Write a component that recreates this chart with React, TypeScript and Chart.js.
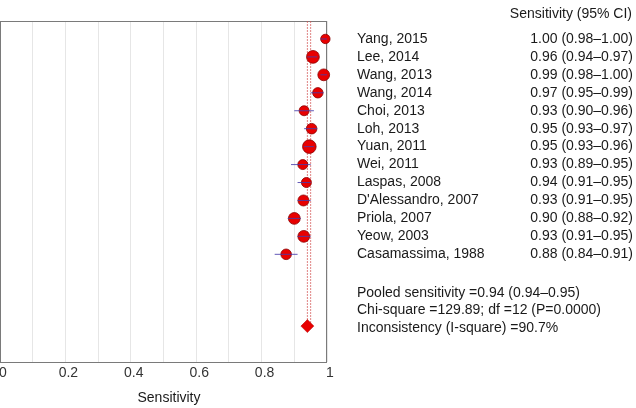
import React, { useEffect, useRef } from "react";
import { Chart, registerables } from "chart.js";

Chart.register(...registerables);

const studies = [
  "Yang, 2015", "Lee, 2014", "Wang, 2013", "Wang, 2014", "Choi, 2013", "Loh, 2013",
  "Yuan, 2011", "Wei, 2011", "Laspas, 2008", "D'Alessandro, 2007", "Priola, 2007",
  "Yeow, 2003", "Casamassima, 1988",
];
const sensitivity = [0.995, 0.957, 0.99, 0.972, 0.93, 0.953, 0.946, 0.926, 0.937, 0.928, 0.9, 0.929, 0.875];
const ciLow = [0.98, 0.94, 0.98, 0.95, 0.9, 0.93, 0.93, 0.89, 0.91, 0.91, 0.88, 0.91, 0.84];
const ciHigh = [1.0, 0.97, 1.0, 0.99, 0.96, 0.97, 0.96, 0.95, 0.95, 0.95, 0.92, 0.95, 0.91];
const ciLabels = [
  "1.00 (0.98–1.00)", "0.96 (0.94–0.97)", "0.99 (0.98–1.00)", "0.97 (0.95–0.99)",
  "0.93 (0.90–0.96)", "0.95 (0.93–0.97)", "0.95 (0.93–0.96)", "0.93 (0.89–0.95)",
  "0.94 (0.91–0.95)", "0.93 (0.91–0.95)", "0.90 (0.88–0.92)", "0.93 (0.91–0.95)",
  "0.88 (0.84–0.91)",
];
const weights = [4.7, 6.4, 5.9, 5.2, 5.0, 5.3, 6.8, 5.0, 5.0, 5.5, 5.9, 5.9, 5.3];
const pooled = 0.94;
const pooledLow = 0.94;
const pooledHigh = 0.95;
const summaryLines = [
  "Pooled sensitivity =0.94 (0.94–0.95)",
  "Chi-square =129.89; df =12 (P=0.0000)",
  "Inconsistency (I-square) =90.7%",
];
const xTicks = [0, 0.2, 0.4, 0.6, 0.8, 1];
const xTickLabels = ["0", "0.2", "0.4", "0.6", "0.8", "1"];

const FONT = '"Liberation Sans", Arial, Helvetica, sans-serif';
const DIAMOND_ROW = 17;

export default function App() {
  const ref = useRef<HTMLCanvasElement | null>(null);

  useEffect(() => {
    if (!ref.current) return;
    const ciData: any[] = [];
    studies.forEach((_, i) => {
      ciData.push({ x: ciLow[i], y: i + 1 });
      ciData.push({ x: ciHigh[i], y: i + 1 });
      ciData.push({ x: NaN, y: NaN });
    });

    const framePlugin = {
      id: "frame",
      beforeDatasetsDraw(chart: any) {
        const ctx = chart.ctx;
        const a = chart.chartArea;
        ctx.save();
        ctx.strokeStyle = "#7a7a7a";
        ctx.lineWidth = 1;
        ctx.strokeRect(Math.round(a.left) + 0.5, Math.round(a.top) + 0.5, Math.round(a.right - a.left) - 1, Math.round(a.bottom - a.top));
        ctx.restore();
      },
    };

    const textPlugin = {
      id: "forestText",
      afterDraw(chart: any) {
        const ctx = chart.ctx;
        const xs = chart.scales.x;
        const ys = chart.scales.y;
        const a = chart.chartArea;
        ctx.save();
        ctx.font = `14px ${FONT}`;
        ctx.fillStyle = "#1a1a1a";
        ctx.textBaseline = "middle";
        ctx.textAlign = "right";
        ctx.fillText("Sensitivity (95% CI)", 632, 14);
        studies.forEach((s, i) => {
          const y = ys.getPixelForValue(i + 1);
          ctx.textAlign = "left";
          ctx.fillText(s, 357, y);
          ctx.textAlign = "right";
          ctx.fillText(ciLabels[i], 633, y);
        });
        ctx.textAlign = "left";
        summaryLines.forEach((t, i) => {
          ctx.fillText(t, 357, ys.getPixelForValue(15.15 + i * 0.97));
        });
        ctx.fillStyle = "#333";
        ctx.textAlign = "center";
        xTicks.forEach((v, i) => {
          ctx.fillText(xTickLabels[i], xs.getPixelForValue(v) + 3, a.bottom + 11);
        });
        ctx.fillStyle = "#1a1a1a";
        ctx.fillText("Sensitivity", 169, a.bottom + 36);
        ctx.restore();
      },
    };

    const chart = new Chart(ref.current, {
      type: "scatter",
      data: {
        datasets: [
          {
            type: "line",
            data: ciData,
            borderColor: "rgba(72,60,170,0.85)",
            borderWidth: 1,
            pointRadius: 0,
            spanGaps: false,
            fill: false,
            clip: false,
          } as any,
          {
            data: studies.map((_, i) => ({ x: sensitivity[i], y: i + 1 })),
            pointRadius: weights,
            backgroundColor: "#e80000",
            borderColor: "#8a0000",
            borderWidth: 0.8,
            clip: false,
          } as any,
          {
            data: [{ x: pooled, y: DIAMOND_ROW }],
            pointStyle: "rectRot",
            pointRadius: 6.5,
            backgroundColor: "#e80000",
            borderColor: "#b00000",
            borderWidth: 0.5,
            clip: false,
          } as any,
          {
            type: "line",
            data: [{ x: pooledLow, y: 0 }, { x: pooledLow, y: DIAMOND_ROW }],
            borderColor: "rgba(210,80,80,0.7)",
            borderWidth: 1,
            borderDash: [2, 1],
            pointRadius: 0,
          } as any,
          {
            type: "line",
            data: [{ x: pooledHigh, y: 0 }, { x: pooledHigh, y: DIAMOND_ROW }],
            borderColor: "rgba(210,80,80,0.7)",
            borderWidth: 1,
            borderDash: [2, 1],
            pointRadius: 0,
          } as any,
        ],
      },
      options: {
        responsive: false,
        animation: false,
        devicePixelRatio: 1,
        layout: { autoPadding: false, padding: { left: 0, right: 309, top: 21, bottom: 46 } },
        plugins: { legend: { display: false }, tooltip: { enabled: false } },
        scales: {
          x: {
            type: "linear",
            min: 0,
            max: 1,
            border: { display: false },
            grid: { color: "#e6e6e6", drawTicks: false, lineWidth: 1 },
            ticks: { display: false, stepSize: 0.1 },
          },
          y: {
            type: "linear",
            min: 0,
            max: 19,
            reverse: true,
            display: false,
          },
        },
      },
      plugins: [framePlugin, textPlugin],
    });
    return () => chart.destroy();
  }, []);

  return (
    <div style={{ position: "fixed", left: 0, top: 0, width: 636, height: 408, background: "#fff" }}>
      <canvas ref={ref} width={636} height={408} />
    </div>
  );
}
